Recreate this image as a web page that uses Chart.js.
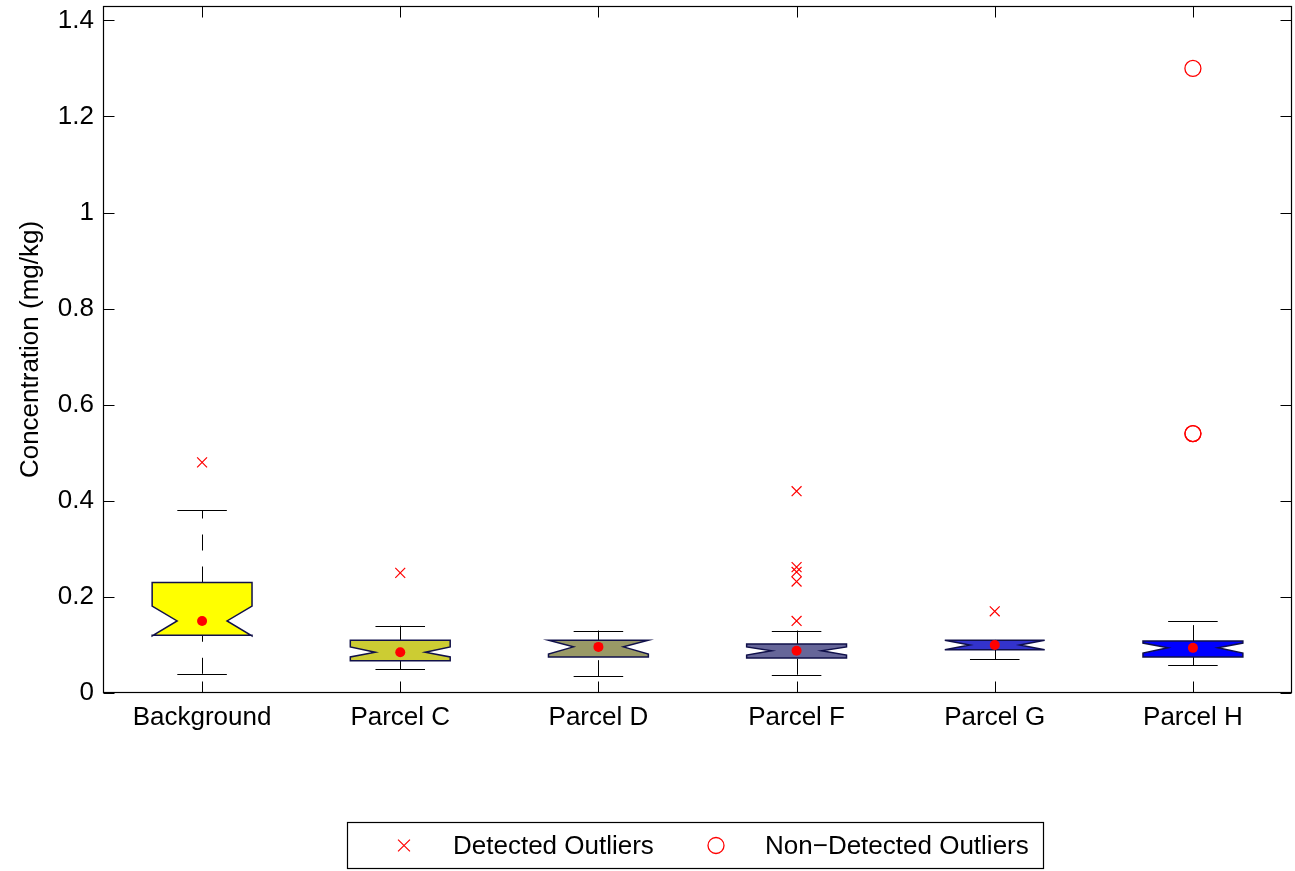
<!DOCTYPE html>
<html>
<head>
<meta charset="utf-8">
<title>Concentration by parcel</title>
<script src="https://cdn.jsdelivr.net/npm/chart.js@4/dist/chart.umd.min.js"></script>
<style>
  html, body { margin: 0; padding: 0; background: #ffffff; }
  canvas { display: block; }
</style>
</head>
<body>
<canvas id="chart" width="1295" height="871"></canvas>
<script>
// Sampling groups along the x axis
const categories = ['Background', 'Parcel C', 'Parcel D', 'Parcel F', 'Parcel G', 'Parcel H'];

// Box statistics (mg/kg)
const q1Values        = [0.120, 0.067, 0.075, 0.073, 0.090, 0.075];
const q3Values        = [0.230, 0.110, 0.110, 0.102, 0.110, 0.108];
const medianValues    = [0.150, 0.085, 0.096, 0.088, 0.100, 0.094];
const notchLowValues  = [0.119, 0.075, 0.081, 0.079, 0.090, 0.083];
const notchHighValues = [0.181, 0.096, 0.110, 0.096, 0.110, 0.104];
const whiskerLow      = [0.040, 0.050, 0.035, 0.038, 0.070, 0.058];
const whiskerHigh     = [0.380, 0.140, 0.130, 0.130, 0.110, 0.150];

// Outliers
const detectedCategory    = ['Background', 'Parcel C', 'Parcel F', 'Parcel F', 'Parcel F', 'Parcel F', 'Parcel F', 'Parcel G'];
const detectedValue       = [0.48, 0.25, 0.42, 0.262, 0.252, 0.232, 0.15, 0.17];
const nonDetectedCategory = ['Parcel H', 'Parcel H', 'Parcel H'];
const nonDetectedValue    = [1.30, 0.54, 0.54];

// Y axis ticks
const yTickValues = [0, 0.2, 0.4, 0.6, 0.8, 1, 1.2, 1.4];
const yTickLabels = ['0', '0.2', '0.4', '0.6', '0.8', '1', '1.2', '1.4'];

// Box fill colours, yellow fading to blue
const boxColors = ['#ffff00', '#cccc33', '#999966', '#666699', '#3333cc', '#0000ff'];

const FONT = "'Liberation Sans', Arial, Helvetica, sans-serif";
const FONT_SIZE = 26;

// Notched boxes with whiskers, drawn under the point datasets
const boxPlotPlugin = {
  id: 'notchedBoxes',
  beforeDatasetsDraw(chart) {
    const ctx = chart.ctx;
    const xs = chart.scales.x;
    const ys = chart.scales.y;
    const catW = xs.getPixelForValue(1) - xs.getPixelForValue(0);
    const halfW = catW * 0.252;
    const notchW = halfW * 0.5;
    const capW = catW * 0.125;
    ctx.save();
    categories.forEach((c, i) => {
      const cx = xs.getPixelForValue(i);
      const lx = Math.round(cx) + 0.5;
      const yQ1 = ys.getPixelForValue(q1Values[i]);
      const yQ3 = ys.getPixelForValue(q3Values[i]);
      const yMed = ys.getPixelForValue(medianValues[i]);
      const yNl = ys.getPixelForValue(notchLowValues[i]);
      const yNh = ys.getPixelForValue(notchHighValues[i]);
      const yWl = ys.getPixelForValue(whiskerLow[i]);
      const yWh = ys.getPixelForValue(whiskerHigh[i]);

      // whiskers (dashed, drawn from the lower value upwards)
      ctx.strokeStyle = '#000000';
      ctx.lineWidth = 1;
      ctx.setLineDash([16, 16]);
      ctx.lineDashOffset = 0;
      ctx.beginPath();
      ctx.moveTo(lx, yWl);
      ctx.lineTo(lx, yQ1);
      ctx.stroke();
      ctx.beginPath();
      ctx.moveTo(lx, yQ3);
      ctx.lineTo(lx, yWh);
      ctx.stroke();
      ctx.setLineDash([]);

      // whisker caps
      ctx.beginPath();
      const yc1 = Math.round(yWl) + 0.5;
      const yc2 = Math.round(yWh) + 0.5;
      ctx.moveTo(cx - capW, yc1);
      ctx.lineTo(cx + capW, yc1);
      ctx.moveTo(cx - capW, yc2);
      ctx.lineTo(cx + capW, yc2);
      ctx.stroke();

      // notched box
      ctx.beginPath();
      ctx.moveTo(cx - halfW, yQ1);
      ctx.lineTo(cx - halfW, yNl);
      ctx.lineTo(cx - notchW, yMed);
      ctx.lineTo(cx - halfW, yNh);
      ctx.lineTo(cx - halfW, yQ3);
      ctx.lineTo(cx + halfW, yQ3);
      ctx.lineTo(cx + halfW, yNh);
      ctx.lineTo(cx + notchW, yMed);
      ctx.lineTo(cx + halfW, yNl);
      ctx.lineTo(cx + halfW, yQ1);
      ctx.closePath();
      ctx.fillStyle = boxColors[i];
      ctx.fill();
      ctx.strokeStyle = '#10104a';
      ctx.lineWidth = 1.5;
      ctx.lineJoin = 'miter';
      ctx.stroke();
    });
    ctx.restore();
  }
};

// Axes frame with inward tick marks, and the boxed legend below
const frameLegendPlugin = {
  id: 'frameLegend',
  afterDraw(chart) {
    const ctx = chart.ctx;
    const a = chart.chartArea;
    const xs = chart.scales.x;
    const ys = chart.scales.y;
    const L = Math.round(a.left) + 0.5, R = Math.round(a.right) - 0.5;
    const T = Math.round(a.top) + 0.5, B = Math.round(a.bottom) - 0.5;
    ctx.save();
    ctx.strokeStyle = '#000000';
    ctx.lineWidth = 1.2;
    ctx.strokeRect(L, T, R - L, B - T);

    ctx.lineWidth = 1;
    const tick = 11;
    ctx.beginPath();
    yTickValues.forEach(v => {
      const y = Math.round(ys.getPixelForValue(v)) + 0.5;
      ctx.moveTo(L, y); ctx.lineTo(L + tick, y);
      ctx.moveTo(R, y); ctx.lineTo(R - tick, y);
    });
    categories.forEach((c, i) => {
      const x = Math.round(xs.getPixelForValue(i)) + 0.5;
      ctx.moveTo(x, B); ctx.lineTo(x, B - tick);
      ctx.moveTo(x, T); ctx.lineTo(x, T + tick);
    });
    ctx.stroke();

    // legend
    const box = { left: 347.5, top: 822.5, right: 1043.5, bottom: 868.5 };
    ctx.lineWidth = 1.2;
    ctx.strokeStyle = '#000000';
    ctx.strokeRect(box.left, box.top, box.right - box.left, box.bottom - box.top);
    const cy = (box.top + box.bottom) / 2;
    const entries = [
      { ds: chart.data.datasets[1], mx: 404, tx: 453 },
      { ds: chart.data.datasets[2], mx: 716, tx: 765 }
    ];
    ctx.font = FONT_SIZE + 'px ' + FONT;
    ctx.textBaseline = 'middle';
    ctx.textAlign = 'left';
    entries.forEach(e => {
      ctx.strokeStyle = e.ds.borderColor;
      ctx.lineWidth = e.ds.borderWidth;
      ctx.beginPath();
      if (e.ds.pointStyle === 'crossRot') {
        const r = e.ds.pointRadius * 0.85;
        ctx.moveTo(e.mx - r, cy - r); ctx.lineTo(e.mx + r, cy + r);
        ctx.moveTo(e.mx - r, cy + r); ctx.lineTo(e.mx + r, cy - r);
      } else {
        ctx.arc(e.mx, cy, e.ds.pointRadius, 0, Math.PI * 2);
      }
      ctx.stroke();
      ctx.fillStyle = '#000000';
      ctx.fillText(e.ds.label, e.tx, cy + 1);
    });
    ctx.restore();
  }
};

const chart = new Chart(document.getElementById('chart'), {
  type: 'scatter',
  data: {
    labels: categories,
    datasets: [
      {
        label: 'Median',
        data: categories.map((c, i) => ({ x: c, y: medianValues[i] })),
        pointStyle: 'circle',
        pointRadius: 5,
        backgroundColor: '#ff0000',
        borderColor: '#ff0000',
        borderWidth: 0
      },
      {
        label: 'Detected Outliers',
        data: detectedCategory.map((c, i) => ({ x: c, y: detectedValue[i] })),
        pointStyle: 'crossRot',
        pointRadius: 7,
        borderColor: '#ff0000',
        backgroundColor: '#ff0000',
        borderWidth: 1.2
      },
      {
        label: 'Non\u2212Detected Outliers',
        data: nonDetectedCategory.map((c, i) => ({ x: c, y: nonDetectedValue[i] })),
        pointStyle: 'circle',
        pointRadius: 8,
        borderColor: '#ff0000',
        backgroundColor: 'rgba(0,0,0,0)',
        borderWidth: 1.3
      }
    ]
  },
  options: {
    responsive: false,
    animation: false,
    events: [],
    layout: { autoPadding: false, padding: { left: 0, right: 3, top: 6, bottom: 0 } },
    plugins: {
      legend: { display: false },
      tooltip: { enabled: false }
    },
    scales: {
      x: {
        type: 'category',
        labels: categories,
        offset: true,
        grid: { display: false, drawTicks: false },
        border: { display: false },
        ticks: {
          color: '#000000',
          padding: 9,
          maxRotation: 0,
          font: { family: FONT, size: FONT_SIZE }
        },
        afterFit(scale) {
          scale.height = 178;
          scale.paddingLeft = 0;
          scale.paddingRight = 0;
        }
      },
      y: {
        type: 'linear',
        min: 0,
        max: 1.43,
        grid: { display: false, drawTicks: false },
        border: { display: false },
        afterBuildTicks(scale) {
          scale.ticks = yTickValues.map(v => ({ value: v }));
        },
        ticks: {
          color: '#000000',
          padding: 9,
          font: { family: FONT, size: FONT_SIZE },
          callback: (value, index) => yTickLabels[index]
        },
        title: {
          display: true,
          text: 'Concentration (mg/kg)',
          color: '#000000',
          font: { family: FONT, size: FONT_SIZE },
          padding: { top: 15, bottom: 0 }
        },
        afterFit(scale) {
          scale.width = 103;
          scale.paddingTop = 0;
          scale.paddingBottom = 0;
        }
      }
    }
  },
  plugins: [boxPlotPlugin, frameLegendPlugin]
});
</script>
</body>
</html>
